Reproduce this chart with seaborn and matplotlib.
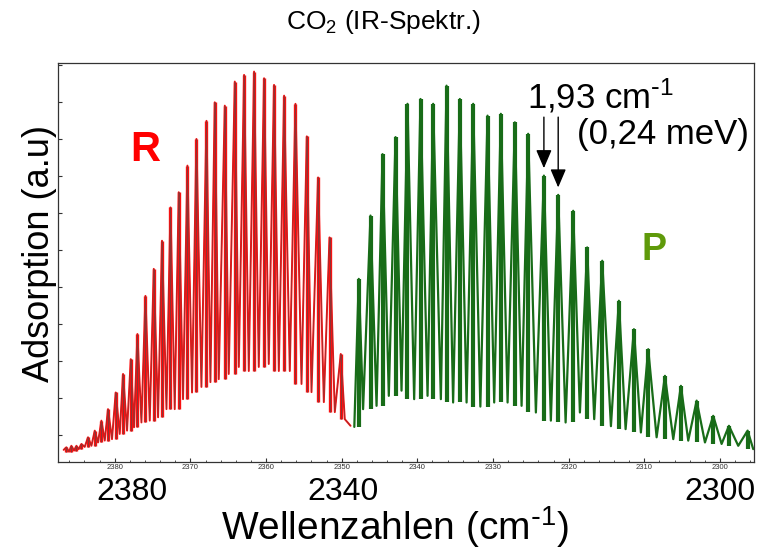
import numpy as np
import pandas as pd
import matplotlib
matplotlib.use("Agg")
import matplotlib.pyplot as plt
from matplotlib.ticker import MultipleLocator
import seaborn as sns

# R-Zweig: Maxima und Minima (Wellenzahl in cm^-1, Adsorption in a.u.)
r_peak_wn = [2386.39, 2385.73, 2385.06, 2384.40, 2383.53, 2382.64, 2381.76, 2380.89,
             2379.87, 2378.90, 2377.88, 2377.00, 2375.94, 2374.84, 2373.75, 2372.63,
             2371.54, 2370.39, 2369.20, 2367.87, 2366.78, 2365.45, 2364.13, 2362.90,
             2361.58, 2360.26, 2358.94, 2357.61, 2356.11, 2354.61, 2353.12, 2351.61,
             2350.12]
r_peak_ads = [-0.33, -0.29, -0.29, -0.24, -0.06, 0.12, 0.39, 0.70,
              1.15, 1.65, 2.05, 2.73, 3.76, 4.49, 5.25, 6.15,
              6.56, 7.28, 8.00, 8.49, 8.99, 8.90, 9.55, 9.73,
              9.82, 9.64, 9.46, 9.17, 8.95, 8.07, 6.96, 5.34,
              2.19]
r_trough_wn = [2386.75, 2386.04, 2385.38, 2384.76, 2383.97, 2383.08, 2382.21, 2381.32,
               2380.36, 2379.34, 2378.37, 2377.45, 2376.47, 2375.37, 2374.27, 2373.16,
               2372.07, 2370.97, 2369.78, 2368.54, 2367.35, 2366.25, 2364.93, 2363.60,
               2362.28, 2360.96, 2359.64, 2358.31, 2356.86, 2355.31, 2353.99, 2352.36,
               2350.91, 2349.59, 2348.83]
r_trough_ads = [-0.40, -0.45, -0.42, -0.38, -0.32, -0.29, -0.20, -0.15,
                -0.11, 0.03, 0.12, 0.21, 0.34, 0.39, 0.48, 0.70,
                0.70, 0.97, 1.15, 1.30, 1.43, 1.51, 1.65, 1.84,
                1.73, 1.84, 1.92, 1.73, 1.73, 1.38, 1.16, 0.89,
                0.62, 0.43, 0.25]

# P-Zweig
p_peak_wn = [2347.74, 2346.19, 2344.60, 2342.88, 2341.30, 2339.58, 2337.91, 2336.14,
             2334.38, 2332.62, 2330.72, 2328.96, 2327.11, 2325.35, 2323.27, 2321.38,
             2319.40, 2317.55, 2315.56, 2313.36, 2311.37, 2309.48, 2307.27, 2305.16,
             2303.08, 2300.89, 2298.81, 2296.34]
p_peak_ads = [4.22, 5.93, 7.59, 8.05, 8.95, 9.08, 8.95, 9.44,
              9.08, 8.95, 8.63, 8.68, 8.45, 8.14, 7.01, 6.49,
              6.06, 5.07, 4.71, 3.63, 2.86, 2.32, 1.60, 1.33,
              0.93, 0.52, 0.25, 0.12]
p_trough_wn = [2348.33, 2347.17, 2345.39, 2343.77, 2342.09, 2340.42, 2338.65, 2336.89,
               2335.27, 2333.49, 2331.67, 2329.84, 2328.07, 2326.22, 2324.33, 2322.35,
               2320.40, 2318.51, 2316.62, 2314.41, 2312.47, 2310.45, 2308.37, 2306.17,
               2304.19, 2301.98, 2299.78, 2297.58, 2295.60]
p_trough_ads = [0.22, 0.70, 0.79, 1.06, 1.20, 0.97, 1.06, 0.97,
                0.88, 0.88, 0.77, 0.88, 0.88, 0.79, 0.61, 0.39,
                0.34, 0.61, 0.43, 0.24, 0.16, 0.07, -0.06, -0.11,
                -0.15, -0.20, -0.24, -0.29, -0.38]

# Achsenbeschriftung
small_ticks = [2300, 2310, 2320, 2330, 2340, 2350, 2360, 2370, 2380]
big_tick_labels = ["2380", "2340", "2300"]
arrow_peaks = [14, 15]  # Linien mit 1,93 cm^-1 Abstand

RED = "#ff1010"
BROWN = "#8e3434"
GREEN = "#186c18"

sns.set_theme(style="white")
plt.rcParams["font.family"] = ["Liberation Sans", "DejaVu Sans"]
plt.rcParams["mathtext.default"] = "regular"
plt.rcParams["text.color"] = "black"
plt.rcParams["axes.labelcolor"] = "black"


def line_bases(trough_ads):
    # Fuss jeder Linie = tieferes der beiden benachbarten Minima
    t = np.asarray(trough_ads)
    return np.minimum(t[:-1], t[1:])


# Spektrum = Minima und Maxima abwechselnd
r_df = pd.DataFrame({"wn": r_peak_wn + r_trough_wn,
                     "ads": r_peak_ads + r_trough_ads}).sort_values("wn")
p_df = pd.DataFrame({"wn": p_peak_wn + p_trough_wn,
                     "ads": p_peak_ads + p_trough_ads}).sort_values("wn")
r_base = line_bases(r_trough_ads)[:len(r_peak_wn)]
p_base = line_bases(p_trough_ads)[:len(p_peak_wn)]

fig, ax = plt.subplots(figsize=(7.58, 5.56), dpi=100)
fig.subplots_adjust(left=0.0765, right=0.9947, bottom=0.1696, top=0.8872)

# R-Zweig
sns.lineplot(data=r_df, x="wn", y="ads", color=RED, lw=1.4, estimator=None, ax=ax)
ax.vlines(r_peak_wn, r_base, r_peak_ads, color=RED, lw=2.4)
ax.vlines(r_peak_wn, r_base, r_peak_ads, color=BROWN, lw=0.8)
sns.lineplot(data=r_df, x="wn", y="ads", color=BROWN, lw=0.5, estimator=None, ax=ax)

# P-Zweig
sns.lineplot(data=p_df, x="wn", y="ads", color=GREEN, lw=1.6, estimator=None, ax=ax)
ax.vlines(p_peak_wn, p_base, p_peak_ads, color=GREEN, lw=3.0)

ax.set_xlim(2387.5, 2295.5)
ax.set_ylim(-0.72, 10.06)

# kleine Original-Ticks
ax.set_xticks(small_ticks)
ax.set_xticklabels([str(t) for t in small_ticks], fontsize=5.5, color="#333333")
ax.xaxis.set_minor_locator(MultipleLocator(2))
ax.set_yticks(range(0, 11))
ax.set_yticklabels([])
ax.tick_params(axis="both", which="major", direction="in", length=3, width=0.8,
               bottom=True, left=True, pad=2, colors="#333333")
ax.tick_params(axis="x", which="minor", direction="in", length=1.5, width=0.6,
               bottom=True, colors="#333333")
for s in ax.spines.values():
    s.set_color("#333333")
    s.set_linewidth(0.9)

# grosse Beschriftung
for lab, xf in zip(big_tick_labels, [0.106, 0.409, 0.951]):
    ax.text(xf, -0.076, lab, transform=ax.transAxes, ha="center", va="center",
            fontsize=23, color="black")

ax.set_xlabel(r"Wellenzahlen (cm$^{\text{-}1}$)", fontsize=28, color="black")
ax.xaxis.set_label_coords(0.484, -0.164)
ax.xaxis.label.set_va("center")
ax.set_ylabel("Adsorption (a.u)", fontsize=26, color="black")
ax.yaxis.set_label_coords(-0.026, 0.523)
ax.yaxis.label.set_va("center")

ax.text(0.467, 1.102, "CO$_2$ (IR-Spektr.)", transform=ax.transAxes,
        ha="center", va="center", fontsize=19, color="black")

ax.text(0.125, 0.781, "R", transform=ax.transAxes, ha="center", va="center",
        fontsize=30, fontweight="bold", color="#ff0000")
ax.text(0.856, 0.531, "P", transform=ax.transAxes, ha="center", va="center",
        fontsize=27, fontweight="bold", color="#5f9a0a")

ax.text(0.674, 0.9166, r"1,93 cm$^{\text{-}1}$", transform=ax.transAxes, ha="left",
        va="center", fontsize=25, color="black")
ax.text(0.7457, 0.821, "(0,24 meV)", transform=ax.transAxes, ha="left",
        va="center", fontsize=25, color="black")

for i in arrow_peaks:
    ax.annotate("", xy=(p_peak_wn[i], p_peak_ads[i] + 0.2), xytext=(p_peak_wn[i], 8.59),
                arrowprops=dict(arrowstyle="-|>,head_length=0.75,head_width=0.32",
                                mutation_scale=15, lw=1.0, color="black",
                                shrinkA=0, shrinkB=0))

fig.savefig("out.png", dpi=100)
